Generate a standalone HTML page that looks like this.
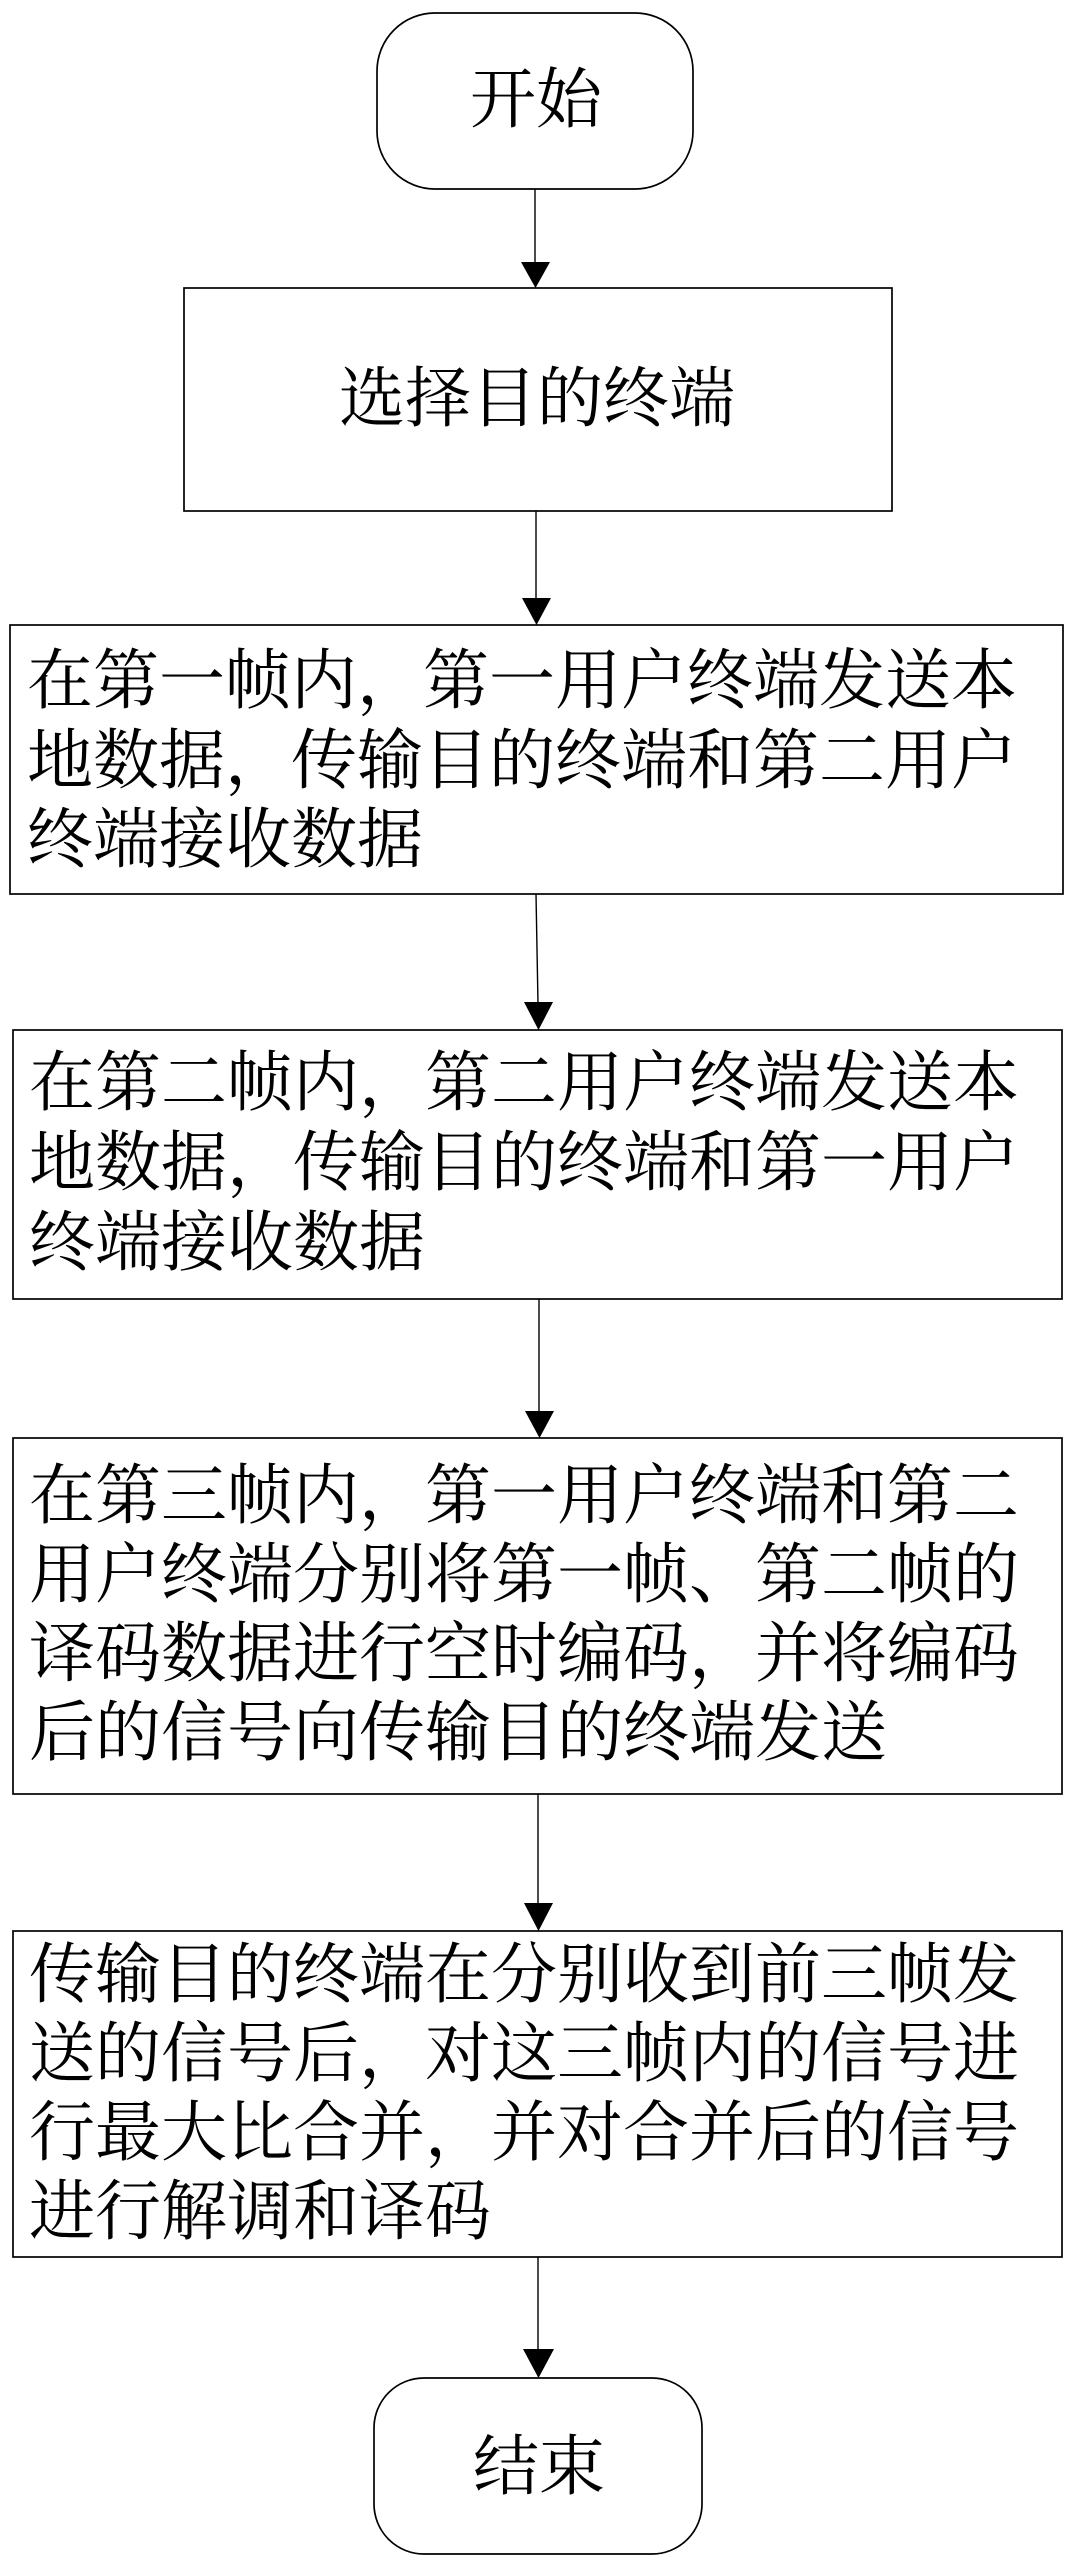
<!DOCTYPE html>
<html>
<head>
<meta charset="utf-8">
<style>
  html, body { margin: 0; padding: 0; background: #fff; }
  svg { display: block; }
  text { font-family: "Liberation Serif", "Noto Serif CJK SC", "Noto Sans CJK SC", serif; font-size: 66px; fill: #000; }
</style>
</head>
<body>
<svg width="1075" height="2571" viewBox="0 0 1075 2571" xmlns="http://www.w3.org/2000/svg">
  <rect x="0" y="0" width="1075" height="2571" fill="#fff"/>
  <g fill="none" stroke="#000" stroke-width="1.7">
    <!-- start -->
    <rect x="377" y="13" width="316" height="176" rx="58" ry="58"/>
    <!-- select -->
    <rect x="184" y="288" width="708" height="223"/>
    <!-- box3 -->
    <rect x="10" y="625" width="1053" height="269"/>
    <!-- box4 -->
    <rect x="13" y="1030" width="1049" height="269"/>
    <!-- box5 -->
    <rect x="13" y="1438" width="1049" height="356"/>
    <!-- box6 -->
    <rect x="13" y="1931" width="1049" height="326"/>
    <!-- end -->
    <rect x="374" y="2378" width="328" height="176" rx="50" ry="50"/>
  </g>
  <g stroke="#000" stroke-width="1.4" fill="none">
    <line x1="535" y1="189" x2="535" y2="264"/>
    <line x1="536" y1="511" x2="536" y2="600"/>
    <line x1="536" y1="894" x2="538" y2="1004"/>
    <line x1="539" y1="1299" x2="539" y2="1413"/>
    <line x1="538" y1="1794" x2="538" y2="1905"/>
    <line x1="538" y1="2257" x2="538" y2="2351"/>
  </g>
  <g fill="#000">
    <polygon points="521,262 550,262 535.5,288"/>
    <polygon points="522,598 551,598 536.5,625"/>
    <polygon points="524,1002 553,1002 538.5,1030"/>
    <polygon points="525,1411 554,1411 539.5,1438"/>
    <polygon points="524,1903 553,1903 538.5,1931"/>
    <polygon points="523,2349 554,2349 538.5,2378"/>
  </g>

  <text x="536" y="122" text-anchor="middle">开始</text>
  <text x="537" y="421" text-anchor="middle">选择目的终端</text>

  <text x="27" y="703">在第一帧内，第一用户终端发送本</text>
  <text x="27" y="783">地数据，传输目的终端和第二用户</text>
  <text x="27" y="862">终端接收数据</text>

  <text x="29" y="1105">在第二帧内，第二用户终端发送本</text>
  <text x="29" y="1185">地数据，传输目的终端和第一用户</text>
  <text x="29" y="1265">终端接收数据</text>

  <text x="29" y="1518">在第三帧内，第一用户终端和第二</text>
  <text x="29" y="1597">用户终端分别将第一帧、第二帧的</text>
  <text x="29" y="1676">译码数据进行空时编码，并将编码</text>
  <text x="29" y="1755">后的信号向传输目的终端发送</text>

  <text x="29" y="1997">传输目的终端在分别收到前三帧发</text>
  <text x="29" y="2076">送的信号后，对这三帧内的信号进</text>
  <text x="29" y="2155">行最大比合并，并对合并后的信号</text>
  <text x="29" y="2234">进行解调和译码</text>

  <text x="539" y="2489" text-anchor="middle">结束</text>
</svg>
</body>
</html>
